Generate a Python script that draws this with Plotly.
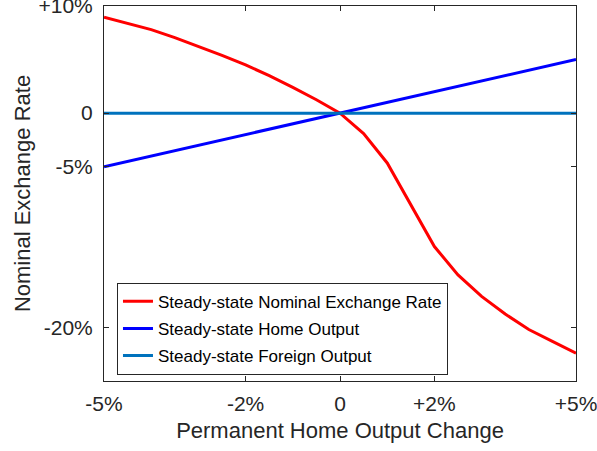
import plotly.graph_objects as go

# Data
output_change = [-5, -4.5, -4, -3.5, -3, -2.5, -2, -1.5, -1, -0.5, 0,
                 0.5, 1, 1.5, 2, 2.5, 3, 3.5, 4, 4.5, 5]
exchange_rate = [8.95, 8.4, 7.8, 7.05, 6.25, 5.4, 4.5, 3.5, 2.4, 1.25, 0,
                 -1.9, -4.65, -8.55, -12.45, -15.1, -17.1, -18.75, -20.2, -21.3, -22.4]
home_output = [-5, -4.5, -4, -3.5, -3, -2.5, -2, -1.5, -1, -0.5, 0,
               0.5, 1, 1.5, 2, 2.5, 3, 3.5, 4, 4.5, 5]
foreign_output = [0] * len(output_change)

series_names = ["Steady-state Nominal Exchange Rate",
                "Steady-state Home Output",
                "Steady-state Foreign Output"]
series_colors = ["#FF0000", "#0000FF", "#0072BD"]

x_tickvals = [-5, -2, 0, 2, 5]
x_ticktext = ["-5%", "-2%", "0", "+2%", "+5%"]
y_tickvals = [-20, -5, 0, 10]
y_ticktext = ["-20%", "-5%", "0", "+10%"]

FONT = "Liberation Sans, Arial, Helvetica, sans-serif"
INK = "#262626"

fig = go.Figure()
for i, ys in enumerate([exchange_rate, home_output, foreign_output]):
    fig.add_trace(go.Scatter(
        x=output_change, y=ys, mode="lines",
        name=series_names[i], legendgroup=f"g{i}",
        line=dict(color=series_colors[i], width=3),
    ))

fig.update_layout(
    width=597, height=451,
    margin=dict(l=104, r=21, t=6, b=70),
    paper_bgcolor="white", plot_bgcolor="white",
    font=dict(family=FONT, color=INK, size=21),
    showlegend=True,
    legend=dict(
        x=0.0275, y=0.262, xanchor="left", yanchor="top",
        bgcolor="white", bordercolor=INK, borderwidth=1,
        font=dict(family=FONT, size=17, color="black"),
        tracegroupgap=2, traceorder="grouped",
    ),
    xaxis=dict(
        range=[-5, 5], tickvals=x_tickvals, ticktext=x_ticktext,
        showgrid=False, zeroline=False, automargin=False,
        ticklabeloverflow="allow", ticklabelstandoff=4,
        showline=True, linecolor=INK, linewidth=1, mirror="allticks",
        ticks="inside", ticklen=5, tickcolor=INK,
        tickfont=dict(size=21, color=INK),
        title=dict(text="Permanent Home Output Change", font=dict(size=22, color=INK), standoff=8),
    ),
    yaxis=dict(
        range=[-25, 10], tickvals=y_tickvals, ticktext=y_ticktext,
        showgrid=False, zeroline=False, automargin=False,
        ticklabeloverflow="allow", ticklabelstandoff=6,
        showline=True, linecolor=INK, linewidth=1, mirror="allticks",
        ticks="inside", ticklen=5, tickcolor=INK,
        tickfont=dict(size=21, color=INK),
        title=dict(text="Nominal Exchange Rate", font=dict(size=22, color=INK), standoff=1),
    ),
)

fig.write_html("out.html", config={"displayModeBar": False},
               post_script="document.body.style.margin='0';")
